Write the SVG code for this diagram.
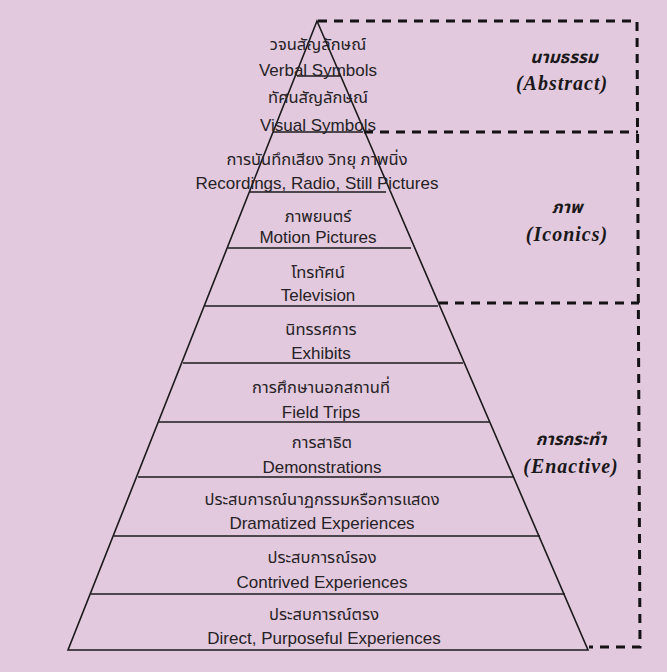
<svg xmlns="http://www.w3.org/2000/svg" width="667" height="672" viewBox="0 0 667 672">
  <style>
    .bg { fill: #e2c9dd; }
    .edge { fill: none; stroke: #1c1a1c; stroke-width: 1.6; stroke-linejoin: miter; }
    .band { stroke: #1c1a1c; stroke-width: 1.6; }
    .dash { fill: none; stroke: #141214; stroke-width: 3; stroke-dasharray: 9 7; }
    .th { font-family: "Noto Sans Thai", "Noto Sans", "DejaVu Sans", sans-serif; font-size: 16.5px; fill: #262226; text-anchor: middle; }
    .en { font-family: "Liberation Sans", Arial, sans-serif; font-size: 17px; fill: #262226; text-anchor: middle; }
    .lab { font-family: "Liberation Serif", "Times New Roman", serif; font-size: 20px; font-weight: bold; font-style: italic; fill: #1a181a; text-anchor: middle; letter-spacing: 1px; }
    .labth { font-family: "Noto Sans Thai", "Noto Sans", "DejaVu Sans", sans-serif; font-size: 17px; font-weight: bold; font-style: italic; fill: #1a181a; text-anchor: middle; }
  </style>

  <rect class="bg" x="0" y="0" width="667" height="672"/>

  <!-- pyramid outline and band dividers -->
  <g id="connectors">
    <path class="edge" d="M317 21 L68 650 L588 650 Z"/>
    <line class="band" x1="297" y1="76" x2="341" y2="76"/>
    <line class="band" x1="273" y1="132" x2="363" y2="132"/>
    <line class="band" x1="250" y1="192" x2="386" y2="192"/>
    <line class="band" x1="228" y1="248" x2="411" y2="248"/>
    <line class="band" x1="205" y1="306" x2="438" y2="306"/>
    <line class="band" x1="183" y1="363" x2="463" y2="363"/>
    <line class="band" x1="159" y1="422" x2="489" y2="422"/>
    <line class="band" x1="138" y1="477" x2="514" y2="477"/>
    <line class="band" x1="114" y1="536" x2="540" y2="536"/>
    <line class="band" x1="91" y1="594" x2="565" y2="594"/>

    <!-- dashed grouping frame -->
    <polyline class="dash" points="318,21 637,21 640,647 589,647"/>
    <line class="dash" x1="364" y1="132" x2="638" y2="132"/>
    <line class="dash" x1="439" y1="303" x2="639" y2="303"/>
  </g>

  <g id="verbal-symbols">
    <text class="th" x="318" y="50">วจนสัญลักษณ์</text>
    <text class="en" x="318" y="76">Verbal Symbols</text>
  </g>
  <g id="visual-symbols">
    <text class="th" x="318" y="103">ทัศนสัญลักษณ์</text>
    <text class="en" x="318" y="131">Visual Symbols</text>
  </g>
  <g id="recordings">
    <text class="th" x="317" y="165">การบันทึกเสียง วิทยุ ภาพนิ่ง</text>
    <text class="en" x="317" y="189">Recordings, Radio, Still Pictures</text>
  </g>
  <g id="motion-pictures">
    <text class="th" x="318" y="222">ภาพยนตร์</text>
    <text class="en" x="318" y="243">Motion Pictures</text>
  </g>
  <g id="television">
    <text class="th" x="318" y="278">โทรทัศน์</text>
    <text class="en" x="318" y="301">Television</text>
  </g>
  <g id="exhibits">
    <text class="th" x="321" y="335">นิทรรศการ</text>
    <text class="en" x="321" y="359">Exhibits</text>
  </g>
  <g id="field-trips">
    <text class="th" x="321" y="393">การศึกษานอกสถานที่</text>
    <text class="en" x="321" y="418">Field Trips</text>
  </g>
  <g id="demonstrations">
    <text class="th" x="322" y="448">การสาธิต</text>
    <text class="en" x="322" y="473">Demonstrations</text>
  </g>
  <g id="dramatized">
    <text class="th" x="322" y="505">ประสบการณ์นาฏกรรมหรือการแสดง</text>
    <text class="en" x="322" y="529">Dramatized Experiences</text>
  </g>
  <g id="contrived">
    <text class="th" x="322" y="563">ประสบการณ์รอง</text>
    <text class="en" x="322" y="588">Contrived Experiences</text>
  </g>
  <g id="direct">
    <text class="th" x="324" y="620">ประสบการณ์ตรง</text>
    <text class="en" x="324" y="644">Direct, Purposeful Experiences</text>
  </g>

  <g id="abstract">
    <text class="labth" x="564" y="63">นามธรรม</text>
    <text class="lab" x="562" y="90">(Abstract)</text>
  </g>
  <g id="iconics">
    <text class="labth" x="567" y="213">ภาพ</text>
    <text class="lab" x="567" y="241">(Iconics)</text>
  </g>
  <g id="enactive">
    <text class="labth" x="571" y="445">การกระทำ</text>
    <text class="lab" x="571" y="473">(Enactive)</text>
  </g>
</svg>
